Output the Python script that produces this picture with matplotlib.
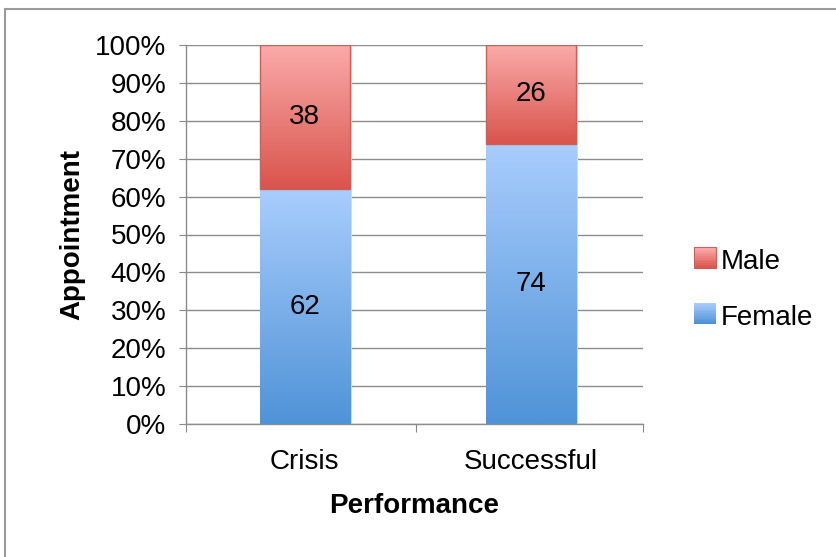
import numpy as np
import matplotlib.pyplot as plt
from matplotlib.patches import Rectangle
from matplotlib.colors import LinearSegmentedColormap
from matplotlib.legend_handler import HandlerBase
from matplotlib.ticker import FuncFormatter

plt.rcParams['font.family'] = ['Liberation Sans', 'DejaVu Sans']

categories = ["Crisis", "Successful"]
female = [62, 74]
male = [38, 26]

# top colour -> bottom colour of each segment
female_grad = ("#a9cdfd", "#4f93d7")
male_grad = ("#faabaa", "#d9544c")


def gradient_fill(ax, patch, colors, z=2):
    cmap = LinearSegmentedColormap.from_list("g", [colors[1], colors[0]])
    x0, y0 = patch.get_x(), patch.get_y()
    x1, y1 = x0 + patch.get_width(), y0 + patch.get_height()
    grad = np.linspace(0, 1, 256).reshape(-1, 1)
    ax.imshow(grad, cmap=cmap, origin="lower", aspect="auto",
              extent=(x0, x1, y0, y1), zorder=z, interpolation="bilinear")


class GradHandler(HandlerBase):
    def __init__(self, colors, edge):
        super().__init__()
        self.colors = colors
        self.edge = edge

    def create_artists(self, legend, orig_handle, xd, yd, w, h, fontsize, trans):
        arts = []
        s = h * 1.0
        x = xd + (w - s) / 2
        n = 12
        cmap = LinearSegmentedColormap.from_list("g", [self.colors[1], self.colors[0]])
        for i in range(n):
            r = Rectangle((x, yd + s * i / n), s, s / n, facecolor=cmap(i / (n - 1)),
                          edgecolor="none", transform=trans)
            arts.append(r)
        if self.edge:
            arts.append(Rectangle((x, yd), s, s, facecolor="none", edgecolor=self.edge,
                                  lw=0.8, transform=trans))
        return arts


fig = plt.figure(figsize=(8.36, 5.57), dpi=100)
ax = fig.add_axes([186 / 836, 1 - 424 / 557, (643 - 186) / 836, (424 - 45) / 557])

x = np.arange(len(categories))
width = 0.4
b_f = ax.bar(x, female, width, color="none", edgecolor="none", zorder=2)
b_m = ax.bar(x, male, width, bottom=female, color="none", edgecolor="#c9605a",
             linewidth=1.0, zorder=3)

for p in b_f:
    # faint drop shadow
    ax.add_patch(Rectangle((p.get_x() + 0.008, p.get_y() - 0.4), p.get_width(), p.get_height(),
                           facecolor="#d8d8d8", edgecolor="none", zorder=1.5))
    gradient_fill(ax, p, female_grad, z=2)
for p in b_m:
    ax.add_patch(Rectangle((p.get_x() + 0.008, p.get_y() - 0.4), p.get_width(), p.get_height(),
                           facecolor="#d8d8d8", edgecolor="none", zorder=1.5))
    gradient_fill(ax, p, male_grad, z=2)

for bars, vals in ((b_f, female), (b_m, male)):
    for p, v in zip(bars, vals):
        ax.text(p.get_x() + p.get_width() / 2, p.get_y() + p.get_height() / 2, str(v),
                ha="center", va="center", fontsize=20, color="black", zorder=5)

x_lo, x_hi = -0.525, 1.495
ax.set_xlim(x_lo, x_hi)
ax.set_ylim(0, 100)
ax.set_yticks(np.arange(0, 101, 10))
ax.yaxis.set_major_formatter(FuncFormatter(lambda v, _: f"{int(v)}%"))
ax.set_xticks([x_lo, 0.49, x_hi])
ax.set_xticklabels([])
ax.set_xticks(x, minor=True)
ax.set_xticklabels(categories, minor=True)
ax.tick_params(axis="x", which="minor", length=0, labelsize=20, pad=18)
ax.tick_params(axis="x", which="major", length=6, color="#888888", direction="out")
ax.tick_params(axis="y", length=5, color="#888888", labelsize=20, pad=9)

ax.grid(axis="y", color="#8c8c8c", linewidth=1.0, zorder=0)
ax.set_axisbelow(True)
for s in ("top", "right"):
    ax.spines[s].set_visible(False)
for s in ("left", "bottom"):
    ax.spines[s].set_color("#8c8c8c")
    ax.spines[s].set_linewidth(1.0)

ax.set_ylabel("Appointment", fontsize=20, fontweight="bold", labelpad=7)
ax.set_xlabel("Performance", fontsize=20, fontweight="bold", labelpad=13)

hm = Rectangle((0, 0), 1, 1)
hf = Rectangle((0, 0), 1, 1)
fig.legend([hm, hf], ["Male", "Female"],
           handler_map={hm: GradHandler(male_grad, "#c9605a"), hf: GradHandler(female_grad, None)},
           loc="center left", bbox_to_anchor=(694 / 836, 1 - 290 / 557), frameon=False,
           fontsize=20, handlelength=0.8, handleheight=0.8, handletextpad=0.15,
           labelspacing=1.05, borderaxespad=0, borderpad=0)

# outer chart border
fig.patches.append(Rectangle((5 / 836, -0.05), 1.1, 1 - 9 / 557 + 0.05, transform=fig.transFigure,
                             facecolor="none", edgecolor="#9a9a9a", linewidth=1.5))

fig.savefig("out.png", dpi=100)
